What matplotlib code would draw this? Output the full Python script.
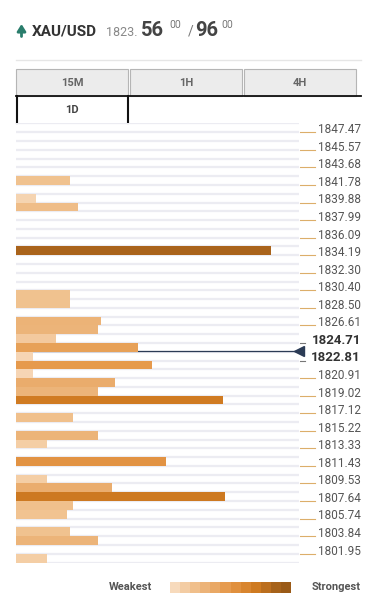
import numpy as np
import matplotlib
matplotlib.use("Agg")
import matplotlib.pyplot as plt
from matplotlib.patches import Rectangle
from matplotlib.colors import LinearSegmentedColormap

plt.rcParams['font.family'] = ['Roboto', 'DejaVu Sans']

# price levels shown on the right (one label every two rows)
price_labels = ["1847.47", "1845.57", "1843.68", "1841.78", "1839.88", "1837.99",
                "1836.09", "1834.19", "1832.30", "1830.40", "1828.50", "1826.61",
                "1824.71", "1822.81", "1820.91", "1819.02", "1817.12", "1815.22",
                "1813.33", "1811.43", "1809.53", "1807.64", "1805.74", "1803.84",
                "1801.95"]
bold_labels = ["1824.71", "1822.81"]
n_rows = 50

# confluence bars: row index (0 = top) and strength (0-100)
bar_rows = [6, 8, 9, 14, 19, 20, 22, 23, 24, 25, 26, 27, 28, 29, 30, 31,
            33, 35, 36, 38, 40, 41, 42, 43, 44, 46, 47, 49]
bar_strength = [19, 7, 22, 90, 19, 19, 30, 29, 14, 43, 6, 48, 6, 35, 29, 73,
                20, 29, 11, 53, 11, 34, 74, 20, 18, 19, 29, 11]

current_row = 26  # price line sits between 1824.71 and 1822.81
tabs = ["15M", "1H", "4H"]
active_tab = "1D"

cmap = LinearSegmentedColormap.from_list(
    "conf", [(0.0, '#f8dec4'), (0.2, '#f0c08c'), (0.35, '#eaac6c'),
             (0.5, '#e59748'), (0.72, '#d27c22'), (0.92, '#a5611a'),
             (1.0, '#9a5a17')])

W, H = 376, 610
fig = plt.figure(figsize=(W / 100, H / 100), dpi=100)

# background axes in pixel coordinates for header, tabs and legend
bg = fig.add_axes([0, 0, 1, 1])
bg.set_xlim(0, W)
bg.set_ylim(H, 0)
bg.axis('off')

# header
bg.annotate("", xy=(21.5, 24), xytext=(21.5, 36.5),
            arrowprops=dict(arrowstyle='-|>,head_width=0.25,head_length=0.4',
                            color='#2a7d6c', lw=2, shrinkA=0, shrinkB=0))
bg.text(32, 36, "XAU/USD", color='#333333', fontsize=11, fontweight='bold', va='baseline')
bg.text(106, 36, "1823.", color='#888888', fontsize=9, va='baseline')
bg.text(141, 36, "56", color='#444444', fontsize=14.5, fontweight='bold', va='baseline')
bg.text(169, 28, "00", color='#777777', fontsize=7.5, va='baseline')
bg.text(188, 36, "/", color='#777777', fontsize=10, va='baseline')
bg.text(195, 36, "96", color='#444444', fontsize=14.5, fontweight='bold', va='baseline')
bg.text(221, 28, "00", color='#777777', fontsize=7.5, va='baseline')

# separator and tabs
bg.plot([16, 361], [59.5, 59.5], color='#e6e6e6', lw=1)
tab_x = [16, 130, 244]
for x0, name in zip(tab_x, tabs):
    bg.add_patch(Rectangle((x0, 69), 112, 27, facecolor='#ececec',
                           edgecolor='#b5b5b5', lw=0.8))
    bg.text(x0 + 56, 83, name, ha='center', va='center', fontsize=8,
            fontweight='bold', color='#666666')
bg.plot([16, 361], [96, 96], color='#111111', lw=1.3)
bg.plot([16.5, 16.5], [96, 123], color='#111111', lw=1.5)
bg.plot([127.5, 127.5], [96, 123], color='#111111', lw=1.5)
bg.text(71.5, 110, active_tab, ha='center', va='center', fontsize=8,
        fontweight='bold', color='#444444')

# legend
bg.text(152, 590, "Weakest", ha='right', va='baseline', fontsize=8,
        fontweight='bold', color='#555555')
bg.text(361, 590, "Strongest", ha='right', va='baseline', fontsize=8,
        fontweight='bold', color='#555555')
n_steps = 12
step_w = (291 - 170) / n_steps
for i, c in enumerate(np.linspace(0.03, 1.0, n_steps)):
    bg.add_patch(Rectangle((170 + i * step_w, 581.5), step_w + 0.3, 11,
                           facecolor=cmap(c), edgecolor='none'))

# chart axes
ax = fig.add_axes([16 / W, 1 - 562.5 / H, 283 / W, 439 / H])
ax.set_xlim(0, 100)
ax.set_ylim(n_rows, 0)
ax.axis('off')

for r in range(n_rows + 1):
    ax.axhline(r, color='#ececf2', lw=1.6, zorder=0)

ax.plot([0, 100], [current_row - 0.08] * 2, color='#2b3b55', lw=0.9, zorder=1)
ax.plot([100], [current_row - 0.08], marker='<', markersize=6.5,
        color='#2b3b55', zorder=3, clip_on=False)

ax.barh(bar_rows, bar_strength, height=1, align='edge',
        color=[cmap(s / 100) for s in bar_strength], zorder=2)

trans = ax.get_yaxis_transform()
for k, lab in enumerate(price_labels):
    y = 2 * k + 1
    if lab in bold_labels:
        ax.plot([1.005, 1.022], [y, y], color='#777777', lw=0.8,
                transform=trans, clip_on=False)
        ax.text(1.219, y + 0.1, lab, transform=trans, ha='right', va='baseline',
                fontsize=9.5, fontweight='bold', color='#333333')
    else:
        ax.plot([1.005, 1.056], [y, y], color='#dcae6a', lw=0.8,
                transform=trans, clip_on=False)
        ax.text(1.219, y + 0.1, lab, transform=trans, ha='right', va='baseline',
                fontsize=8.5, color='#555555')

fig.savefig("out.png", dpi=100)
